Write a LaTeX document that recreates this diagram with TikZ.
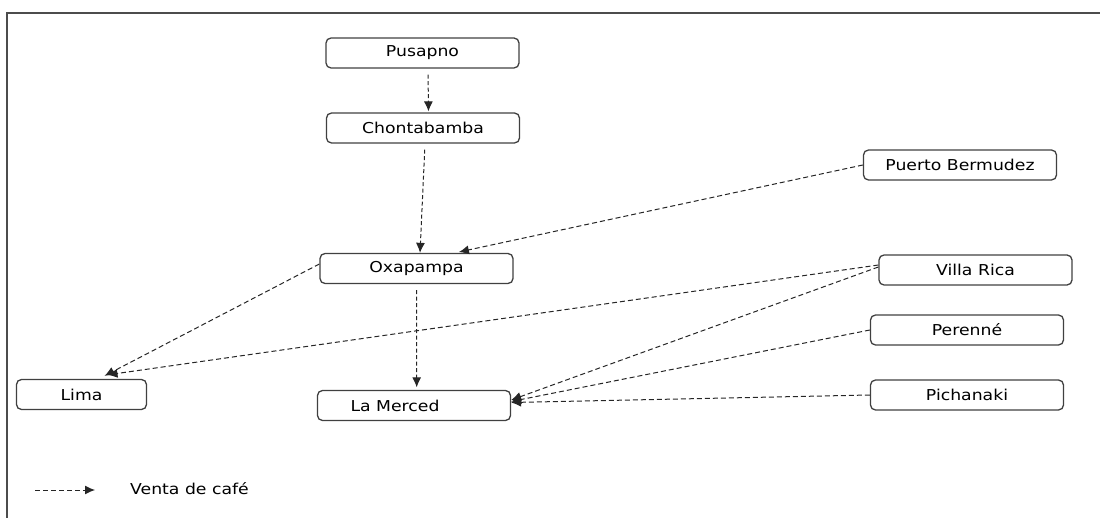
\documentclass[tikz,border=0pt]{standalone}
\usepackage{fontspec}
\setmainfont{DejaVu Sans}[FakeStretch=1.15]
\usetikzlibrary{arrows.meta}
\tikzset{every node/.style={font=\fontsize{15}{18}\selectfont}}
\tikzset{town/.style={draw=black!75, line width=1.3pt, rounded corners=5pt,
    minimum width=193pt, minimum height=30pt, inner sep=0pt},
  venta/.style={draw=black!85, line width=1pt, dash pattern=on 5pt off 3pt,
    -{Latex[length=10pt,width=9pt]}}}

\begin{document}
\begin{tikzpicture}[x=1pt, y=-1pt]
      \useasboundingbox (0,0) rectangle (1100,518);
      \draw[black!70, line width=1.2pt] (7,518) -- (7,13) -- (1100,13);
      % places
      \node[town] (pusapno) at (422.5,53) {Pusapno};
      \node[town] (chontabamba) at (423,128) {Chontabamba};
      \node[town] (bermudez) at (960,165) {Puerto Bermudez};
      \node[town] (oxapampa) at (416.5,268.5) {Oxapampa};
      \node[town] (villarica) at (975.5,270) {Villa Rica};
      \node[town] (perenne) at (967,330) {Perenné};
      \node[town, minimum width=130pt] (lima) at (81.5,394.5) {Lima};
      \node[town] (lamerced) at (414,405.5) {La Merced\kern38pt};
      \node[town] (pichanaki) at (967,395) {Pichanaki};
      % sales
      \draw[venta, dash pattern=on 4pt off 2.5pt, shorten <=6pt, shorten >=1pt] ([xshift=5.5pt]pusapno.south) -- ([xshift=5.5pt]chontabamba.north);
      \draw[venta, dash pattern=on 4pt off 2.5pt, shorten <=6pt] ([xshift=2pt]chontabamba.south) -- ([xshift=3.5pt]oxapampa.north);
      \draw[venta, shorten >=4pt] (bermudez.west) -- ([xshift=38.5pt]oxapampa.north);
      \draw[venta] ([yshift=4.5pt]oxapampa.west) -- ([xshift=23pt,yshift=3pt]lima.north);
      \draw[venta] ([yshift=5pt]villarica.west) -- ([xshift=26pt,yshift=4pt]lima.north);
      \draw[venta, dash pattern=on 4pt off 2.5pt, shorten <=6pt, shorten >=2.5pt] (oxapampa.south) -- ([xshift=2.7pt]lamerced.north);
      \draw[venta] ([yshift=3pt]villarica.west) -- ([yshift=5.5pt]lamerced.east);
      \draw[venta] (perenne.west) -- ([yshift=4pt]lamerced.east);
      \draw[venta] (pichanaki.west) -- ([yshift=3pt]lamerced.east);
      % legend
      \coordinate (legstart) at (35,490);
      \coordinate (legend) at (95,490);
      \draw[venta] (legstart) -- (legend);
      \node[anchor=west, inner sep=0pt] (legtext) at (130,489) {Venta de café};
\end{tikzpicture}
\end{document}
